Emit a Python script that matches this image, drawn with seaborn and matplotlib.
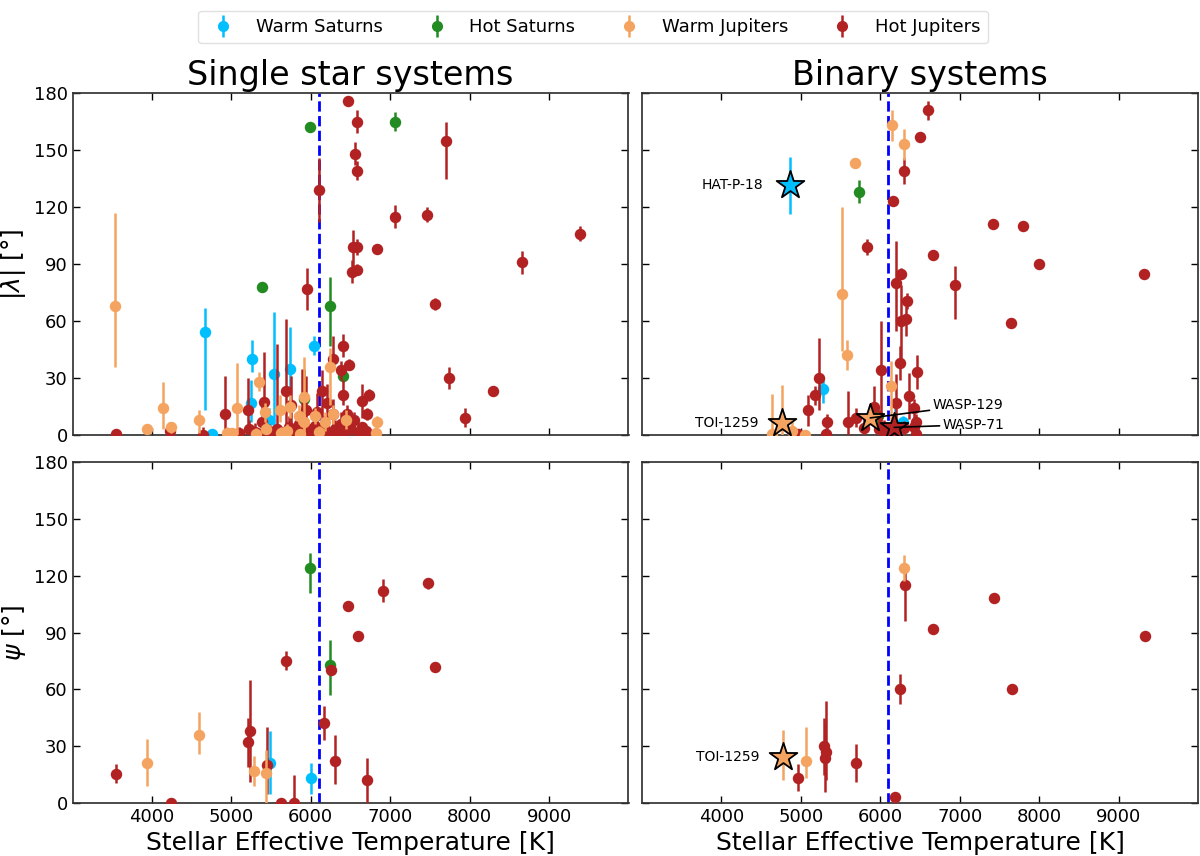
import numpy as np
import pandas as pd
import matplotlib
matplotlib.use("Agg")
import matplotlib.pyplot as plt
import seaborn as sns
from matplotlib.lines import Line2D
from matplotlib.legend_handler import HandlerTuple

# ---------------- data ----------------
categories = ["Warm Saturns", "Hot Saturns", "Warm Jupiters", "Hot Jupiters"]
category_colors = ["deepskyblue", "forestgreen", "sandybrown", "firebrick"]
draw_order = ["Warm Saturns", "Hot Saturns", "Hot Jupiters", "Warm Jupiters"]

kraft_break = 6100
x_ticks = [4000, 5000, 6000, 7000, 8000, 9000]
y_ticks = [0, 30, 60, 90, 120, 150, 180]
panel_titles = ["Single star systems", "Binary systems"]
x_label = "Stellar Effective Temperature [K]"
y_labels = [r"$|\lambda|$ [°]", r"$\psi$ [°]"]

# each entry: (Teff, value, lower error, upper error)
single_lambda_warm_saturns = [
    (4665, 54, 41, 13), (4760, 0.5, 0.5, 2), (5250, 17, 10, 12), (5258, 40, 7, 10),
    (5475, 8, 5, 6), (5540, 32, 32, 33), (5742, 35, 23, 22), (6046, 47, 5, 5),
]
single_lambda_hot_saturns = [
    (5385, 78, 2, 2), (5920, 19, 5, 16), (5995, 162, 2, 2), (6240, 68, 21, 15),
    (6400, 31, 3, 3), (7056, 165, 5, 5),
]
single_lambda_warm_jupiters = [
    (3533, 68, 32, 49), (3933, 3, 3, 3), (4143, 14, 11, 14), (4240, 4, 3, 3),
    (4593, 8, 7, 5), (4951, 1, 1, 3), (5010, 1, 1, 2), (5069, 14, 14, 24),
    (5313, 0.5, 0.5, 3), (5351, 28, 5, 5), (5427, 12, 5, 5), (5439, 3, 3, 4),
    (5616, 13, 6, 8), (5620, 1, 1, 3), (5700, 2, 2, 4), (5742, 15, 6, 6),
    (5847, 10, 4, 6), (5870, 0.5, 0.5, 2), (5911, 7, 4, 4), (5919, 20, 20, 21),
    (6049, 10, 4, 4), (6100, 1.5, 1.5, 3), (6184, 7, 5, 5), (6247, 36, 20, 10),
    (6281, 11, 5, 5), (6449, 8, 5, 5), (6816, 1, 1, 2), (6828, 7, 3, 3),
]
single_lambda_hot_jupiters = [
    (3545, 0.5, 0.5, 2), (4230, 2, 2, 5), (4640, 0, 0, 4), (4920, 11, 11, 20),
    (4990, 0, 0, 2), (5100, 1, 1, 3), (5204, 13, 10, 17), (5225, 3, 3, 5),
    (5300, 1.5, 1.5, 5), (5350, 0.5, 0.5, 3), (5380, 7, 5, 10), (5405, 17.5, 10, 26),
    (5480, 2, 2, 4), (5540, 1, 1, 3), (5580, 3, 3, 45), (5650, 1, 1, 3),
    (5685, 23, 23, 38), (5720, 4, 4, 6), (5757, 16, 10, 15), (5800, 2, 2, 4),
    (5850, 6, 4, 6), (5890, 4, 4, 31), (5944, 13, 13, 18), (5953, 77, 11, 11),
    (5960, 3, 3, 5), (6000, 1, 1, 3), (6050, 5, 4, 6), (6080, 12, 8, 10),
    (6109, 129, 17, 17), (6130, 2, 2, 4), (6142, 23, 15, 11), (6170, 4, 4, 6),
    (6204, 17, 8, 10), (6230, 1, 1, 3), (6280, 11, 6, 8), (6281, 40, 6, 12),
    (6300, 3, 3, 5), (6350, 0.5, 0.5, 3), (6380, 6, 4, 6), (6386, 34, 5, 5),
    (6403, 21, 5, 8), (6403, 47, 6, 6), (6420, 1, 1, 3), (6456, 11, 5, 5),
    (6466, 176, 2, 2), (6479, 37, 3, 3), (6500, 3, 3, 4), (6520, 86, 6, 6),
    (6530, 99, 13, 9), (6540, 8, 4, 4), (6555, 148, 6, 6), (6576, 139, 5, 5),
    (6576, 165, 6, 6), (6580, 87, 3, 3), (6587, 99, 4, 4), (6610, 0.5, 0.5, 2),
    (6647, 18, 9, 9), (6650, 4, 3, 3), (6700, 2, 2, 3), (6710, 11, 3, 3),
    (6731, 21, 3, 3), (6828, 98, 2, 2), (7056, 115, 6, 6), (7468, 116, 4, 4),
    (7565, 69, 3, 3), (7708, 155, 20, 10), (7742, 30, 6, 6), (7944, 9, 5, 5),
    (8297, 23, 2, 2), (8659, 91, 6, 6), (9387, 106, 4, 4),
]

binary_lambda_warm_saturns = [(5274, 24, 7, 7), (6180, 5, 4, 9), (6280, 7, 3, 3)]
binary_lambda_hot_saturns = [(5736, 128, 6, 6), (5966, 10, 4, 5)]
binary_lambda_warm_jupiters = [
    (4638, 0.5, 0.5, 21), (4890, 2, 2, 5), (5053, 0, 0, 2), (5514, 74, 30, 46),
    (5576, 42, 8, 8), (5686, 143, 2, 2), (6135, 26, 26, 13), (6147, 163, 8, 8),
    (6293, 153, 8, 8),
]
binary_lambda_hot_jupiters = [
    (4960, 0.5, 0.5, 2), (5094, 13, 8, 8), (5182, 21, 5, 5), (5224, 30, 17, 21),
    (5320, 0.5, 0.5, 3), (5329, 7, 4, 4), (5597, 7, 7, 16), (5694, 9, 5, 5),
    (5799, 3.5, 3.5, 5), (5836, 99, 4, 4), (5925, 15, 5, 11), (5987, 3, 3, 10),
    (6009, 34, 34, 26), (6050, 2, 2, 6), (6110, 1, 1, 3), (6155, 0.5, 0.5, 3),
    (6164, 123, 2, 2), (6197, 17, 17, 15), (6197, 80, 25, 22), (6248, 38, 9, 9),
    (6260, 60, 22, 19), (6260, 85, 3, 3), (6302, 3.5, 3.5, 4), (6302, 139, 7, 7),
    (6323, 61, 9, 7), (6331, 70.5, 4, 4), (6365, 20.5, 12, 12), (6428, 4.4, 4, 4),
    (6428, 14, 5, 5), (6449, 7, 4, 4), (6450, 0.5, 0.5, 3), (6457, 33, 9, 9),
    (6499, 157, 2, 2), (6595, 171, 5, 5), (6667, 95, 2, 2), (6939, 79, 18, 10),
    (7425, 111, 2, 2), (7648, 59, 2, 2), (7803, 110, 2, 2), (8000, 90, 2, 2),
    (9325, 85, 2, 2),
]

single_psi_warm_saturns = [(5482, 21, 16, 17), (6003, 13, 8, 8)]
single_psi_hot_saturns = [(5995, 124, 13, 8), (6239, 73, 16, 13)]
single_psi_warm_jupiters = [(3933, 21, 12, 13), (4593, 36, 10, 12), (5288, 17, 8, 8), (5436, 16, 16, 12)]
single_psi_hot_jupiters = [
    (3545, 15.5, 5, 5), (4236, 0, 0, 1), (5204, 32, 13, 13), (5229, 38, 27, 27),
    (5448, 20, 15, 20), (5629, 0, 0, 1), (5688, 75, 5, 5), (5783, 0, 0, 15),
    (6162, 42, 9, 9), (6260, 70, 2, 2), (6311, 22, 12, 14), (6471, 104, 2, 2),
    (6597, 88, 2, 2), (6711, 12, 12, 12), (6913, 112, 6, 6), (7472, 116, 3, 3),
    (7561, 72, 2, 2),
]

binary_psi_warm_saturns = []
binary_psi_hot_saturns = []
binary_psi_warm_jupiters = [(5064, 22, 9, 18), (6298, 124, 7, 7)]
binary_psi_hot_jupiters = [
    (4965, 13.4, 7, 7), (5293, 30, 15, 15), (5306, 24, 18, 18), (5320, 27, 15, 27),
    (5697, 21, 10, 10), (6186, 3, 2, 2), (6249, 60, 8, 8), (6307, 115, 19, 7),
    (6666, 92, 2, 2), (7429, 108, 2, 2), (7653, 60, 2, 2), (9327, 88, 2, 2),
]

# highlighted systems: (name, category, Teff, value, lower error, upper error)
binary_lambda_stars = [
    ("HAT-P-18", "Warm Saturns", 4864, 131.5, 15, 15),
    ("TOI-1259", "Warm Jupiters", 4763, 6.5, 6.5, 20),
    ("WASP-129", "Warm Jupiters", 5874, 9, 3, 3),
    ("WASP-71", "Hot Jupiters", 6176, 4, 3, 3),
]
binary_psi_stars = [
    ("TOI-1259", "Warm Jupiters", 4772, 24.3, 12, 14),
]

# ---------------- styling ----------------
sns.set_theme(style="ticks")
plt.rcParams["font.family"] = ["DejaVu Sans"]
for key in ("text.color", "axes.labelcolor", "xtick.color", "ytick.color"):
    plt.rcParams[key] = "black"
plt.rcParams["axes.edgecolor"] = "0.2"
palette = dict(zip(categories, category_colors))

label_styles = {
    "HAT-P-18": dict(xytext=(-19, 0), ha="right", arrow=False),
    "TOI-1259": dict(xytext=(-17, 0), ha="right", arrow=False),
    "WASP-129": dict(xytext=(45, 9), ha="left", arrow=True),
    "WASP-71": dict(xytext=(35, 2), ha="left", arrow=True),
}


def to_frame(rows):
    return pd.DataFrame(rows, columns=["Teff", "val", "lo", "hi"])


def draw_panel(ax, sets, stars):
    ax.axvline(kraft_break, color="blue", ls="--", lw=2, zorder=1)
    for i, cat in enumerate(draw_order):
        df = to_frame(sets[cat])
        if df.empty:
            continue
        ax.errorbar(df["Teff"], df["val"], yerr=[df["lo"], df["hi"]], fmt="none",
                    ecolor=palette[cat], elinewidth=1.8, capsize=0, zorder=2 + 2 * i)
        sns.scatterplot(data=df, x="Teff", y="val", color=palette[cat], s=68,
                        linewidth=0, ax=ax, zorder=3 + 2 * i, legend=False)
    for name, cat, t, v, lo, hi in stars:
        ax.errorbar([t], [v], yerr=[[lo], [hi]], fmt="none", ecolor=palette[cat],
                    elinewidth=1.8, capsize=0, zorder=19)
        sdf = pd.DataFrame({"Teff": [t], "val": [v]})
        sns.scatterplot(data=sdf, x="Teff", y="val", color=palette[cat], marker="*",
                        s=440, edgecolor="black", linewidth=1.3, ax=ax, zorder=20,
                        legend=False)
        st = label_styles[name]
        arrowprops = dict(arrowstyle="-", color="black", lw=1.2,
                          shrinkA=0, shrinkB=0) if st["arrow"] else None
        ax.annotate(name, xy=(t, v), xytext=st["xytext"], textcoords="offset points",
                    ha=st["ha"], va="center", fontsize=10, arrowprops=arrowprops,
                    zorder=21)
    ax.set_xlim(3000, 10000)
    ax.set_ylim(0, 180)
    ax.set_xticks(x_ticks)
    ax.set_yticks(y_ticks)
    ax.tick_params(direction="in", top=True, right=True, labelsize=13,
                   length=5, width=1)
    ax.set_xlabel("")
    ax.set_ylabel("")


fig = plt.figure(figsize=(12, 8.56), dpi=100)
W, H = 1200, 856
def px_axes(x0, y0, x1, y1):
    return fig.add_axes([x0 / W, 1 - y1 / H, (x1 - x0) / W, (y1 - y0) / H])

ax_tl = px_axes(72.5, 93, 628.5, 435)
ax_tr = px_axes(642, 93, 1198, 435)
ax_bl = px_axes(72.5, 462, 628.5, 803)
ax_br = px_axes(642, 462, 1198, 803)

draw_panel(ax_tl, {"Warm Saturns": single_lambda_warm_saturns, "Hot Saturns": single_lambda_hot_saturns,
                   "Warm Jupiters": single_lambda_warm_jupiters, "Hot Jupiters": single_lambda_hot_jupiters}, [])
draw_panel(ax_tr, {"Warm Saturns": binary_lambda_warm_saturns, "Hot Saturns": binary_lambda_hot_saturns,
                   "Warm Jupiters": binary_lambda_warm_jupiters, "Hot Jupiters": binary_lambda_hot_jupiters},
           binary_lambda_stars)
draw_panel(ax_bl, {"Warm Saturns": single_psi_warm_saturns, "Hot Saturns": single_psi_hot_saturns,
                   "Warm Jupiters": single_psi_warm_jupiters, "Hot Jupiters": single_psi_hot_jupiters}, [])
draw_panel(ax_br, {"Warm Saturns": binary_psi_warm_saturns, "Hot Saturns": binary_psi_hot_saturns,
                   "Warm Jupiters": binary_psi_warm_jupiters, "Hot Jupiters": binary_psi_hot_jupiters},
           binary_psi_stars)

for ax in (ax_tl, ax_tr):
    ax.tick_params(labelbottom=False)
for ax in (ax_tr, ax_br):
    ax.tick_params(labelleft=False)

ax_tl.set_title(panel_titles[0], fontsize=24)
ax_tr.set_title(panel_titles[1], fontsize=24)
ax_tl.set_ylabel(y_labels[0], fontsize=18)
ax_bl.set_ylabel(y_labels[1], fontsize=18)
ax_bl.set_xlabel(x_label, fontsize=18)
ax_br.set_xlabel(x_label, fontsize=18)

handles = []
for cat in categories:
    c = palette[cat]
    handles.append((Line2D([], [], ls="none", marker="|", markersize=16, mew=1.8, color=c),
                    Line2D([], [], ls="none", marker="o", markersize=7, color=c)))
fig.legend(handles, categories, handler_map={tuple: HandlerTuple(ndivide=1)},
           loc="upper center", bbox_to_anchor=(0.494, 0.998), ncol=4, fontsize=13,
           frameon=True, edgecolor="0.85", fancybox=True)

fig.savefig("out.png", dpi=100)
